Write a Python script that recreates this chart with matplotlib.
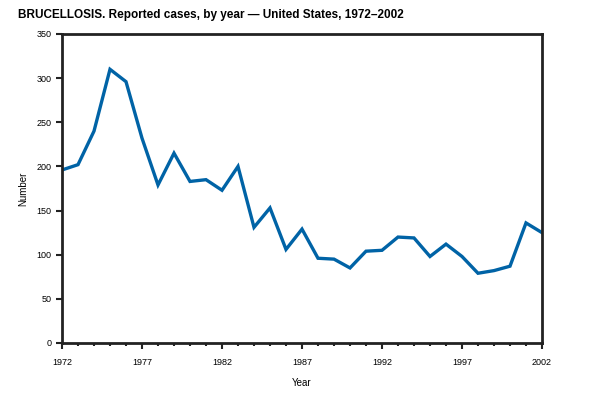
import matplotlib
matplotlib.use("Agg")
import matplotlib.pyplot as plt
from matplotlib.ticker import MultipleLocator

plt.rcParams['font.family'] = ['Liberation Sans', 'DejaVu Sans']

# Reported brucellosis cases per year
years = list(range(1972, 2003))
cases = [196, 202, 240, 310, 296, 232, 179, 215, 183, 185, 173, 200, 131, 153,
         106, 129, 96, 95, 85, 104, 105, 120, 119, 98, 112, 98, 79, 82, 87, 136, 125]
xticks = [1972, 1977, 1982, 1987, 1992, 1997, 2002]
yticks = [0, 50, 100, 150, 200, 250, 300, 350]

fig = plt.figure(figsize=(5.93, 3.97), dpi=100)
ax = fig.add_axes([62/593, 54/397, 480/593, 309/397])

ax.plot(years, cases, color="#0063a6", linewidth=2.4, solid_joinstyle="miter")

ax.set_xlim(1972, 2002)
ax.set_ylim(0, 350)
ax.set_xticks(xticks)
ax.set_yticks(yticks)
ax.xaxis.set_minor_locator(MultipleLocator(1))
ax.tick_params(axis="both", which="major", direction="out", length=4, width=1.5,
               labelsize=6.5, color="#222222")
ax.tick_params(axis="x", which="minor", direction="out", length=2.5, width=1.5,
               color="#222222")
ax.tick_params(axis="x", pad=7)
for s in ax.spines.values():
    s.set_linewidth(2)
    s.set_color("#222222")

ax.set_xlabel("Year", fontsize=7, labelpad=8)
ax.set_ylabel("Number", fontsize=7, labelpad=6)

fig.text(18/593, 1 - 15/397, "BRUCELLOSIS. Reported cases, by year \u2014 United States, 1972\u20132002",
         fontsize=8.5, fontweight="bold", va="center", ha="left")

fig.savefig("out.png", dpi=100)
